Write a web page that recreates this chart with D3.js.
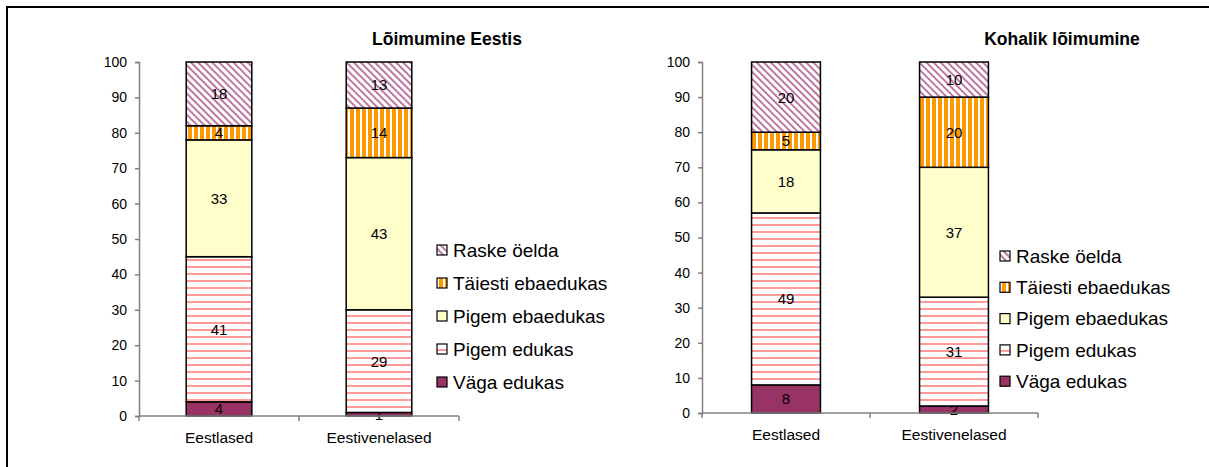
<!DOCTYPE html>
<html>
<head>
<meta charset="utf-8">
<script src="https://cdn.jsdelivr.net/npm/d3@7"></script>
<style>
  body { margin: 0; background: #fff; }
  svg { font-family: "Liberation Sans", Arial, sans-serif; }
</style>
</head>
<body>
<svg id="chart" width="1209" height="467"></svg>
<script>
// DATA
const categories = ['Eestlased', 'Eestivenelased'];
const seriesNames = ['Väga edukas', 'Pigem edukas', 'Pigem ebaedukas', 'Täiesti ebaedukas', 'Raske öelda'];
const yTicks = [0, 10, 20, 30, 40, 50, 60, 70, 80, 90, 100];

// values per series, one value per category
const eestisValues = [
    [4, 1],     // Väga edukas
    [41, 29],   // Pigem edukas
    [33, 43],   // Pigem ebaedukas
    [4, 14],    // Täiesti ebaedukas
    [18, 13]    // Raske öelda
];
const kohalikValues = [
    [8, 2],
    [49, 31],
    [18, 37],
    [5, 20],
    [20, 10]
];

let svg = d3.select('#chart');

// outer frame (clipped by window on right/bottom)
svg.append('rect')
    .attr('x', 7).attr('y', 7)
    .attr('width', 1220).attr('height', 480)
    .attr('fill', 'none')
    .attr('stroke', '#000')
    .attr('stroke-width', 2);

// patterns
let defs = svg.append('defs');

let p1 = defs.append('pattern').attr('id', 'pat-pigem-edukas')
    .attr('patternUnits', 'userSpaceOnUse').attr('width', 8).attr('height', 7);
p1.append('rect').attr('width', 8).attr('height', 7).attr('fill', '#fff');
p1.append('rect').attr('y', 0).attr('width', 8).attr('height', 2).attr('fill', '#ff9999');

let p2 = defs.append('pattern').attr('id', 'pat-taiesti')
    .attr('patternUnits', 'userSpaceOnUse').attr('width', 6).attr('height', 6);
p2.append('rect').attr('width', 6).attr('height', 6).attr('fill', '#ff9900');
p2.append('rect').attr('x', 0).attr('width', 2).attr('height', 6).attr('fill', '#fff');

let p3 = defs.append('pattern').attr('id', 'pat-raske')
    .attr('patternUnits', 'userSpaceOnUse').attr('width', 5).attr('height', 5)
    .attr('patternTransform', 'rotate(-45)');
p3.append('rect').attr('width', 5).attr('height', 5).attr('fill', '#fff');
p3.append('rect').attr('width', 1.8).attr('height', 5).attr('fill', '#b86a98');

const fills = ['#993366', 'url(#pat-pigem-edukas)', '#ffffcc', 'url(#pat-taiesti)', 'url(#pat-raske)'];

function drawChart(cfg) {
    let g = svg.append('g');

    let x = d3.scaleBand()
        .domain(categories)
        .range([cfg.x0, cfg.x1])
        .paddingInner(0.59)
        .paddingOuter(0.295);

    let y = d3.scaleLinear()
        .domain([0, 100])
        .range([cfg.yBottom, cfg.yTop]);

    // y axis
    let yAxis = g.append('g')
        .attr('transform', 'translate(' + cfg.x0 + ',0)')
        .call(d3.axisLeft(y).tickValues(yTicks).tickSize(4).tickPadding(8));
    yAxis.selectAll('path,line').attr('stroke', '#808080').attr('stroke-width', 1.5);
    yAxis.selectAll('text').attr('font-size', 14).attr('fill', '#000')
        .attr('font-family', '"Liberation Sans", Arial, sans-serif');

    // stack
    let rows = categories.map(function (c, i) {
        let row = { cat: c };
        seriesNames.forEach(function (s, k) { row[s] = cfg.values[k][i]; });
        return row;
    });
    let stacked = d3.stack().keys(seriesNames)(rows);

    stacked.forEach(function (layer, k) {
        let lg = g.append('g');
        lg.selectAll('rect')
            .data(layer)
            .enter()
            .append('rect')
            .attr('x', function (d) { return x(d.data.cat); })
            .attr('y', function (d) { return y(d[1]); })
            .attr('width', x.bandwidth())
            .attr('height', function (d) { return y(d[0]) - y(d[1]); })
            .attr('fill', fills[k])
            .attr('stroke', '#000')
            .attr('stroke-width', 1.5);
        lg.selectAll('text')
            .data(layer)
            .enter()
            .append('text')
            .attr('x', function (d) { return x(d.data.cat) + x.bandwidth() / 2; })
            .attr('y', function (d) { return (y(d[0]) + y(d[1])) / 2; })
            .attr('dy', '0.36em')
            .attr('text-anchor', 'middle')
            .attr('font-size', 15)
            .text(function (d) { return d[1] - d[0]; });
    });

    // x axis
    let xAxis = g.append('g')
        .attr('transform', 'translate(0,' + cfg.yBottom + ')');
    xAxis.append('line')
        .attr('x1', cfg.x0).attr('x2', cfg.x1)
        .attr('stroke', '#808080').attr('stroke-width', 1.5);
    let bounds = [cfg.x0, cfg.x0 + (cfg.x1 - cfg.x0) / 2, cfg.x1];
    xAxis.selectAll('.tk')
        .data(bounds)
        .enter()
        .append('line')
        .attr('x1', function (d) { return d; }).attr('x2', function (d) { return d; })
        .attr('y1', 0).attr('y2', 5)
        .attr('stroke', '#808080').attr('stroke-width', 1.5);
    xAxis.selectAll('text')
        .data(categories)
        .enter()
        .append('text')
        .attr('x', function (d) { return x(d) + x.bandwidth() / 2; })
        .attr('y', 27)
        .attr('text-anchor', 'middle')
        .attr('font-size', 15.5)
        .text(function (d) { return d; });

    // title
    g.append('text')
        .attr('x', cfg.titleX)
        .attr('y', 45)
        .attr('text-anchor', 'middle')
        .attr('font-size', 17.5)
        .attr('font-weight', 'bold')
        .text(cfg.title);

    // legend (top-down: reverse order)
    let legendItems = seriesNames.map(function (s, k) { return { name: s, k: k }; }).reverse();
    let leg = g.append('g');
    let items = leg.selectAll('g')
        .data(legendItems)
        .enter()
        .append('g')
        .attr('transform', function (d, i) {
            return 'translate(' + cfg.legendX + ',' + (cfg.legendY + i * cfg.legendStep) + ')';
        });
    items.append('rect')
        .attr('x', 0).attr('y', -5)
        .attr('width', 10).attr('height', 10)
        .attr('fill', function (d) { return fills[d.k]; })
        .attr('stroke', '#000')
        .attr('stroke-width', 1.2);
    items.append('text')
        .attr('x', 16)
        .attr('dy', '0.36em')
        .attr('font-size', 19)
        .text(function (d) { return d.name; });
}

drawChart({
    title: 'Lõimumine Eestis', titleX: 447,
    values: eestisValues,
    x0: 139, x1: 459, yTop: 62, yBottom: 416,
    legendX: 437, legendY: 250, legendStep: 33
});

drawChart({
    title: 'Kohalik lõimumine', titleX: 1062,
    values: kohalikValues,
    x0: 702, x1: 1038, yTop: 62, yBottom: 413,
    legendX: 1000, legendY: 256, legendStep: 31.3
});
</script>
</body>
</html>
